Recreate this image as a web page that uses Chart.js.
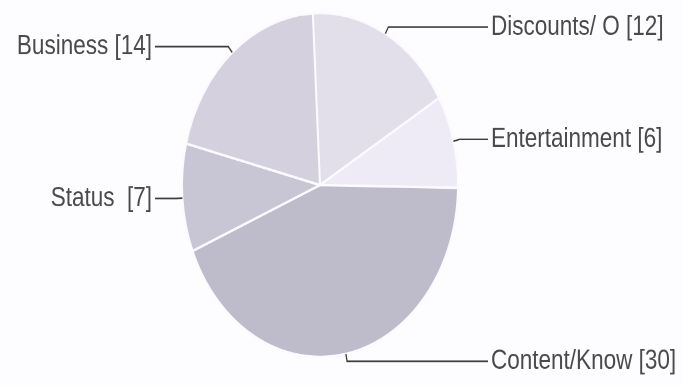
<!DOCTYPE html>
<html>
<head>
<meta charset="utf-8">
<script src="https://cdn.jsdelivr.net/npm/chart.js@4.4.1/dist/chart.umd.min.js"></script>
<style>
  html, body { margin: 0; padding: 0; background: #fdfcfe; overflow: hidden; }
  /* The chart is drawn on a shorter stage and stretched vertically,
     giving the tall oval pie and tall lettering. */
  #stage {
    position: absolute; left: 0; top: 0;
    width: 683px; height: 309px;
    transform: scale(1, 1.246);
    transform-origin: 0 0;
  }
</style>
</head>
<body>
<div id="stage"><canvas id="pie"></canvas></div>
<script>
// Segments, clockwise from the top
const categories = ['Discounts/ O', 'Entertainment', 'Content/Know', 'Status ', 'Business'];
const counts = [12, 6, 30, 7, 14];
const sliceColors = ['#e2deea', '#eeeaf6', '#bebcca', '#c8c6d4', '#d4d0de'];

// Leader lines: short radial stub from the rim, then a horizontal run to the label column
const leaderLabels = {
  id: 'leaderLabels',
  afterDatasetsDraw(chart) {
    const ctx = chart.ctx;
    const meta = chart.getDatasetMeta(0);
    const leftColumn = 155, rightColumn = 488, stub = 6, gap = 3;
    ctx.save();
    ctx.strokeStyle = '#3c3c3c';
    ctx.lineWidth = 1.3;
    ctx.fillStyle = '#4a4a4a';
    ctx.font = '22.5px "Liberation Sans", Arial, Helvetica, sans-serif';
    ctx.textBaseline = 'middle';
    meta.data.forEach((arc, i) => {
      const p = arc.getProps(['x', 'y', 'startAngle', 'endAngle', 'outerRadius'], true);
      const mid = (p.startAngle + p.endAngle) / 2;
      const c = Math.cos(mid), s = Math.sin(mid);
      const ex = p.x + p.outerRadius * c, ey = p.y + p.outerRadius * s;
      const bx = p.x + (p.outerRadius + stub) * c, by = p.y + (p.outerRadius + stub) * s;
      const right = c >= 0;
      const endX = right ? rightColumn : leftColumn;
      ctx.beginPath();
      ctx.moveTo(ex, ey);
      ctx.lineTo(bx, by);
      ctx.lineTo(endX, by);
      ctx.stroke();
      ctx.textAlign = right ? 'left' : 'right';
      const text = categories[i] + ' [' + counts[i] + ']';
      ctx.fillText(text, right ? endX + gap : endX - gap, by);
    });
    ctx.restore();
  }
};

new Chart(document.getElementById('pie'), {
  type: 'pie',
  data: {
    labels: categories,
    datasets: [{
      data: counts,
      backgroundColor: sliceColors,
      borderColor: '#fbfaff',
      borderWidth: 2
    }]
  },
  options: {
    responsive: true,
    maintainAspectRatio: false,
    devicePixelRatio: 2,
    animation: false,
    rotation: -3,
    layout: { padding: { top: 9.5, bottom: 21.5, left: 0, right: 43 } },
    plugins: {
      legend: { display: false },
      tooltip: { enabled: false }
    }
  },
  plugins: [leaderLabels]
});
</script>
</body>
</html>
